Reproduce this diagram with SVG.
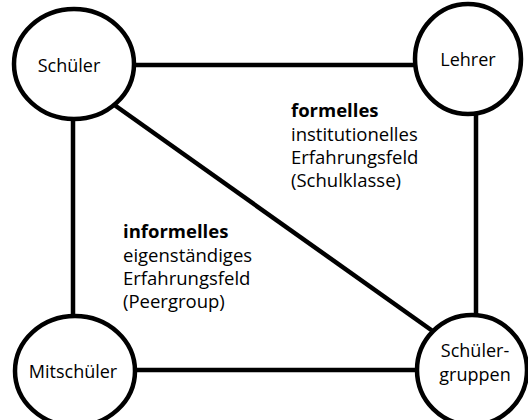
<svg xmlns="http://www.w3.org/2000/svg" width="528" height="420" viewBox="0 0 528 420">
<style>
.node{fill:#fff;stroke:#000;stroke-width:4.5}
.edge{stroke:#000;stroke-width:4.5;fill:none}
text{font-family:"Open Sans","Noto Sans",sans-serif;font-size:18px;fill:#000}
.blk{font-size:18.5px}
.b{font-weight:bold}
</style>
<rect width="528" height="420" fill="#fff"/>
<g id="connectors">
<line class="edge" x1="134" y1="65" x2="416" y2="65"/>
<line class="edge" x1="134" y1="370" x2="418" y2="370"/>
<line class="edge" x1="73" y1="118" x2="73" y2="316"/>
<line class="edge" x1="476" y1="112" x2="476" y2="316"/>
<line class="edge" x1="113" y1="104" x2="434" y2="332"/>
</g>
<g id="schueler">
<ellipse class="node" cx="74" cy="64" rx="60" ry="55"/>
<text x="69" y="72" text-anchor="middle">Schüler</text>
</g>
<g id="lehrer">
<ellipse class="node" cx="468" cy="59" rx="53" ry="55"/>
<text x="468" y="66" text-anchor="middle">Lehrer</text>
</g>
<g id="mitschueler">
<ellipse class="node" cx="75" cy="371" rx="60" ry="55"/>
<text x="73" y="378" text-anchor="middle">Mitschüler</text>
</g>
<g id="schuelergruppen">
<ellipse class="node" cx="472" cy="370" rx="55" ry="55"/>
<text x="475" y="357" text-anchor="middle">Schüler-</text>
<text x="475" y="381" text-anchor="middle">gruppen</text>
</g>
<g id="formelles">
<text class="blk" x="291" y="117"><tspan class="b">formelles</tspan><tspan x="291" dy="24">institutionelles</tspan><tspan x="291" dy="23">Erfahrungsfeld</tspan><tspan x="291" dy="23">(Schulklasse)</tspan></text>
</g>
<g id="informelles">
<text class="blk" x="123" y="238"><tspan class="b">informelles</tspan><tspan x="123" dy="24">eigenständiges</tspan><tspan x="123" dy="23">Erfahrungsfeld</tspan><tspan x="123" dy="23">(Peergroup)</tspan></text>
</g>
</svg>
